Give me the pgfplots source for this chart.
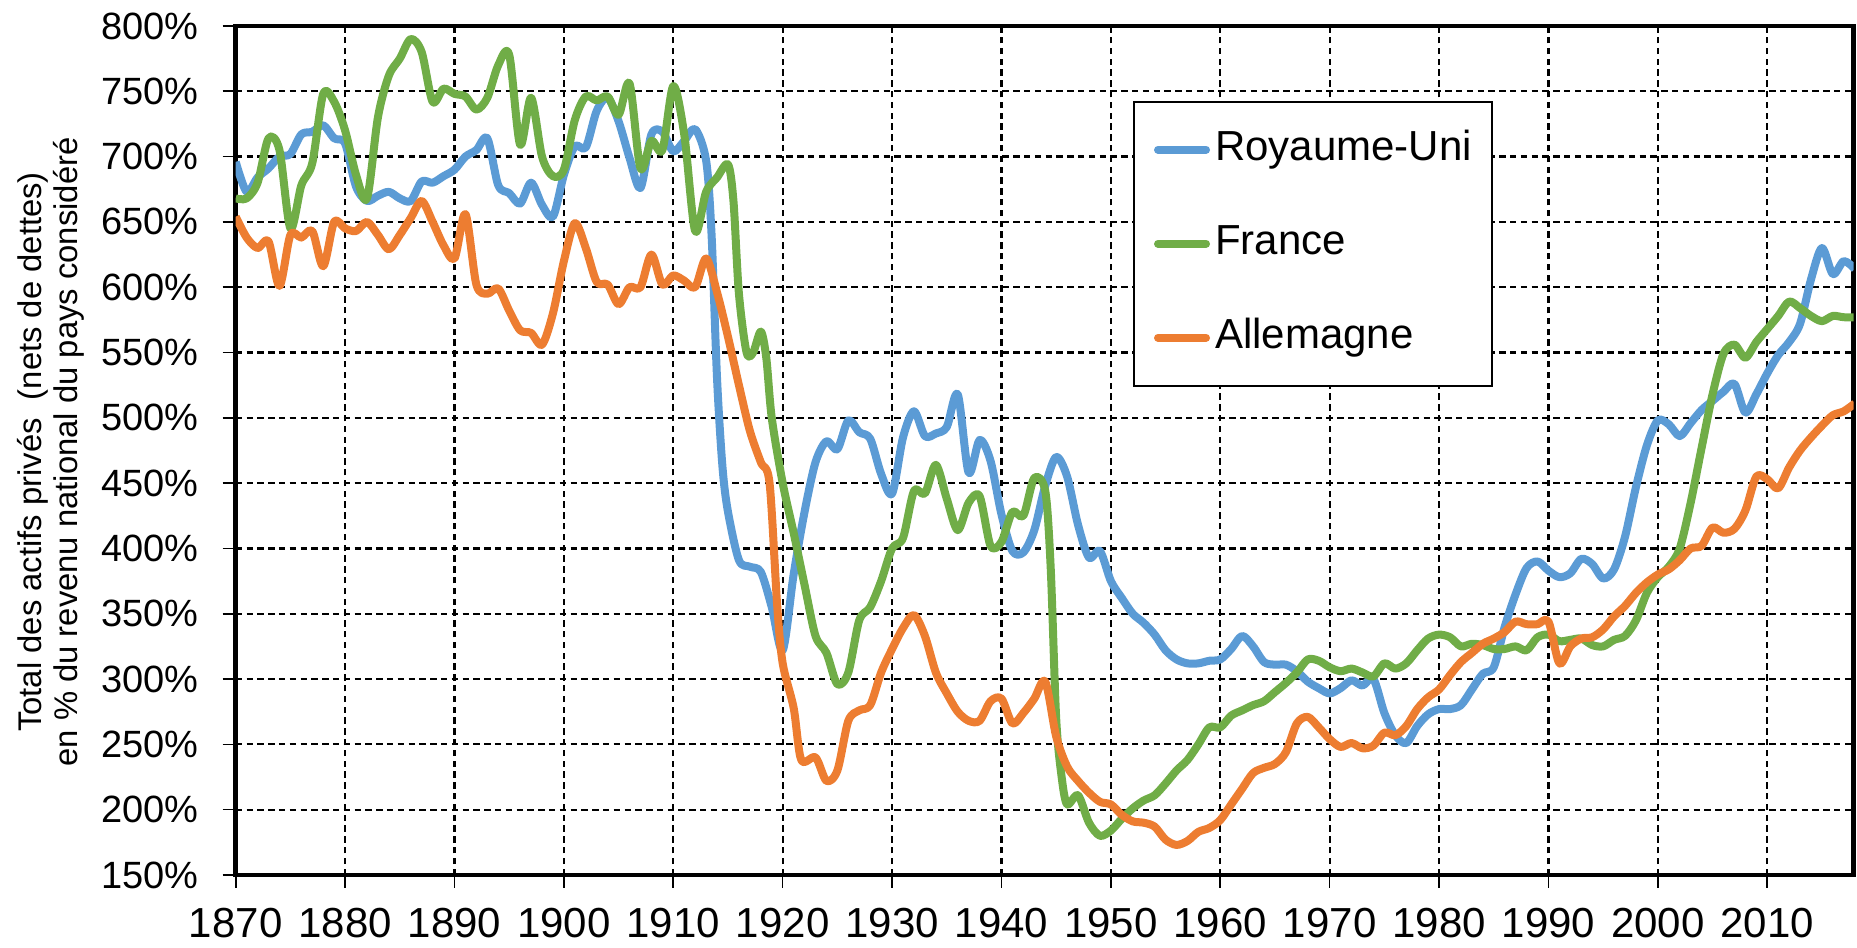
\documentclass[border=0pt]{standalone}
\usepackage{fontspec}
\setmainfont{Liberation Sans}
\usepackage{pgfplots}
\pgfplotsset{compat=1.18}
\definecolor{ruBlue}{HTML}{5B9BD5}
\definecolor{frGreen}{HTML}{70AD47}
\definecolor{deOrange}{HTML}{ED7D31}

\begin{document}
\begin{tikzpicture}
\useasboundingbox (-58.93pt,-18.25pt) rectangle (405.33pt,218.75pt);
\begin{axis}[
  scale only axis, width=404.5pt, height=212.25pt,
  xmin=1870, xmax=2017.9, ymin=150, ymax=800,
  xtick={1870,1880,...,2010}, ytick={150,200,...,800},
  xtick pos=left, ytick pos=left, tick align=outside,
  major tick length=3.25pt, tick style={black, line width=0.4pt},
  axis line style={black, line width=1.2pt},
  grid=major, major grid style={black, line width=0.55pt, dash pattern=on 1.6pt off 1.1pt},
  /pgf/number format/assume math mode=true,
  /pgf/number format/1000 sep={},
  ticklabel style={inner sep=0pt},
  yticklabel={\pgfmathprintnumber{\tick}\%},
  yticklabel style={anchor=east, xshift=-5.85pt, font=\fontsize{9.5}{11}\selectfont},
  xticklabel style={anchor=north, yshift=-4.95pt, font=\fontsize{10.5}{12}\selectfont},
  legend style={at={(rel axis cs:0.5546,0.9117)}, anchor=north west, draw=black, line width=0.5pt,
    font=\fontsize{10.5}{12}\selectfont, inner xsep=5pt, inner ysep=7pt, row sep=13.6pt,
    column sep=1.25pt, cells={anchor=west}, nodes={inner sep=0pt, text height=7.7pt, text depth=2.2pt}},
  legend cell align=left,
  legend image code/.code={\draw[#1, line width=2pt, line cap=round] (1pt,0pt) -- (13pt,0pt);},
  every axis plot/.append style={line width=2pt, smooth, tension=0.5, line join=round},
]
% Royaume-Uni
\addplot[ruBlue] coordinates {
(1870,696)(1871,673)(1872,684)(1873,691)(1874,700)(1875,702)(1876,717)(1877,719)(1878,724)(1879,714)
(1880,710)(1881,677)(1882,666)(1883,670)(1884,673)(1885,668)(1886,666)(1887,681)(1888,680)(1889,685)
(1890,690)(1891,700)(1892,705)(1893,714)(1894,678)(1895,672)(1896,664)(1897,680)(1898,663)(1899,654)
(1900,686)(1901,708)(1902,707)(1903,735)(1904,745)(1905,727)(1906,699)(1907,676)(1908,717)(1909,719)
(1910,704)(1911,712)(1912,721)(1913,697)(1913.5,640)(1914,530)(1914.5,462)(1915,428)(1916,391)(1917,386)
(1918,382)(1919,355)(1920,322)(1921,380)(1922,428)(1923,466)(1924,482)(1925,476)(1926,498)(1927,489)
(1928,484)(1929,457)(1930,442)(1931,485)(1932,505)(1933,486)(1934,488)(1935,493)(1936,518)(1937,458)
(1938,483)(1939,467)(1940,426)(1941,398)(1942,397)(1943,414)(1944,448)(1945,470)(1946,455)(1947,418)
(1948,393)(1949,398)(1950,375)(1951,362)(1952,350)(1953,343)(1954,334)(1955,322)(1956,315)(1957,312)
(1958,312)(1959,314)(1960,315)(1961,323)(1962,333)(1963,325)(1964,313)(1965,311)(1966,311)(1967,306)
(1968,298)(1969,293)(1970,289)(1971,293)(1972,299)(1973,295)(1974,300)(1975,274)(1976,257)(1977,251)
(1978,264)(1979,273)(1980,277)(1981,277)(1982,280)(1983,292)(1984,304)(1985,309)(1986,340)(1987,365)
(1988,385)(1989,390)(1990,383)(1991,378)(1992,381)(1993,392)(1994,388)(1995,377)(1996,384)(1997,409)
(1998,447)(1999,479)(2000,498)(2001,495)(2002,486)(2003,496)(2004,506)(2005,513)(2006,520)(2007,526)
(2008,504)(2009,518)(2010,534)(2011,548)(2012,558)(2013,572)(2014,606)(2015,630)(2016,610)(2017,620)
(2018,614)};
\addlegendentry{Royaume-Uni}
% France
\addplot[frGreen] coordinates {
(1870,668)(1871,668)(1872,680)(1873,714)(1874,705)(1875,645)(1876,678)(1877,695)(1878,748)(1879,742)
(1880,720)(1881,686)(1882,668)(1883,730)(1884,762)(1885,775)(1886,790)(1887,780)(1888,742)(1889,752)
(1890,748)(1891,746)(1892,736)(1893,745)(1894,770)(1895,778)(1896,709)(1897,745)(1898,700)(1899,685)
(1900,690)(1901,728)(1902,746)(1903,743)(1904,746)(1905,732)(1906,756)(1907,691)(1908,712)(1909,705)
(1910,754)(1911,717)(1912,643)(1913,673)(1914,684)(1915,694)(1915.5,666)(1916,595)(1916.7,550)(1917.3,550)
(1918,566)(1918.5,546)(1919,500)(1920,450)(1921,412)(1922,372)(1923,333)(1924,320)(1925,296)(1926,305)
(1927,345)(1928,355)(1929,375)(1930,400)(1931,408)(1932,444)(1933,442)(1934,464)(1935,438)(1936,414)
(1937,435)(1938,440)(1939,402)(1940,405)(1941,428)(1942,425)(1943,454)(1944,444)(1944.5,385)(1945,270)
(1945.5,225)(1946,204)(1947,211)(1948,190)(1949,180)(1950,184)(1951,193)(1952,201)(1953,207)(1954,211)
(1955,220)(1956,230)(1957,238)(1958,250)(1959,263)(1960,263)(1961,272)(1962,276)(1963,280)(1964,283)
(1965,290)(1966,297)(1967,305)(1968,315)(1969,314)(1970,309)(1971,306)(1972,308)(1973,305)(1974,302)
(1975,312)(1976,308)(1977,312)(1978,322)(1979,331)(1980,334)(1981,332)(1982,325)(1983,327)(1984,326)
(1985,323)(1986,323)(1987,325)(1988,322)(1989,332)(1990,334)(1991,329)(1992,330)(1993,331)(1994,326)
(1995,325)(1996,330)(1997,333)(1998,345)(1999,366)(2000,378)(2001,386)(2002,400)(2003,435)(2004,477)
(2005,518)(2006,549)(2007,556)(2008,546)(2009,558)(2010,568)(2011,578)(2012,589)(2013,584)(2014,578)
(2015,574)(2016,578)(2017,577)(2018,577)};
\addlegendentry{France}
% Allemagne
\addplot[deOrange] coordinates {
(1870,654)(1871,638)(1872,630)(1873,635)(1874,601)(1875,640)(1876,638)(1877,643)(1878,616)(1879,650)
(1880,645)(1881,643)(1882,650)(1883,640)(1884,629)(1885,640)(1886,653)(1887,666)(1888,650)(1889,632)
(1890,622)(1891,656)(1892,602)(1893,595)(1894,599)(1895,582)(1896,567)(1897,565)(1898,556)(1899,580)
(1900,620)(1901,649)(1902,630)(1903,604)(1904,602)(1905,587)(1906,600)(1907,600)(1908,625)(1909,602)
(1910,609)(1911,605)(1912,600)(1913,622)(1914,596)(1915,562)(1916,525)(1917,490)(1918,466)(1918.8,450)
(1919.5,356)(1920,312)(1921,278)(1921.7,238)(1923,240)(1924,222)(1925,230)(1926,268)(1927,276)(1928,280)
(1929,305)(1930,323)(1931,339)(1932,349)(1933,333)(1934,305)(1935,289)(1936,275)(1937,268)(1938,268)
(1939,283)(1940,285)(1941,266)(1942,274)(1943,285)(1944,298)(1945,256)(1946,233)(1947,222)(1948,213)
(1949,206)(1950,204)(1951,196)(1952,191)(1953,190)(1954,187)(1955,177)(1956,173)(1957,176)(1958,183)
(1959,186)(1960,192)(1961,204)(1962,216)(1963,228)(1964,232)(1965,235)(1966,244)(1967,266)(1968,271)
(1969,263)(1970,254)(1971,248)(1972,251)(1973,247)(1974,249)(1975,259)(1976,257)(1977,264)(1978,277)
(1979,286)(1980,292)(1981,303)(1982,313)(1983,320)(1984,327)(1985,331)(1986,336)(1987,344)(1988,342)
(1989,342)(1990,344)(1991,312)(1992,325)(1993,331)(1994,332)(1995,338)(1996,348)(1997,356)(1998,366)
(1999,374)(2000,380)(2001,384)(2002,391)(2003,400)(2004,402)(2005,416)(2006,412)(2007,415)(2008,429)
(2009,455)(2010,453)(2011,446)(2012,462)(2013,475)(2014,485)(2015,494)(2016,502)(2017,505)(2018,511)};
\addlegendentry{Allemagne}
\end{axis}
\node[rotate=90, align=center, font=\fontsize{8.2}{9.1}\selectfont, inner sep=0pt] at (-46.25pt,105.75pt)
  {Total des actifs privés~~(nets de dettes)\\en \% du revenu national du pays considéré};
\end{tikzpicture}
\end{document}
